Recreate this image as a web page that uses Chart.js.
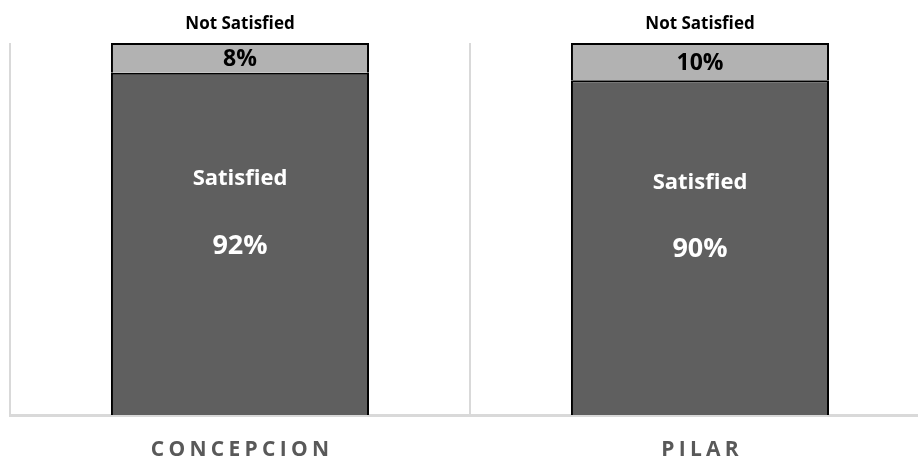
<!DOCTYPE html>
<html>
<head>
<meta charset="utf-8">
<script src="https://cdn.jsdelivr.net/npm/chart.js@4.4.0/dist/chart.umd.min.js"></script>
<style>
  html, body { margin: 0; padding: 0; background: #ffffff; overflow: hidden; }
  #wrap { position: relative; width: 940px; height: 461px; }
</style>
</head>
<body>
<div id="wrap"><canvas id="chart"></canvas></div>
<script>
// chart data
const categories = ['CONCEPCION', 'PILAR'];
const satisfied = [92, 90];
const notSatisfied = [8, 10];

const FONT = "'Open Sans', sans-serif";

// Draws the in-bar labels, the "Not Satisfied" captions and spaced category names
const labelPlugin = {
  id: 'labelPlugin',
  afterDatasetsDraw(chart) {
    const ctx = chart.ctx;
    const metaSat = chart.getDatasetMeta(0);
    const metaNot = chart.getDatasetMeta(1);
    ctx.save();
    ctx.textAlign = 'center';
    ctx.textBaseline = 'middle';

    metaSat.data.forEach((bar, i) => {
      const mid = (bar.y + bar.base) / 2;
      ctx.fillStyle = '#ffffff';
      ctx.font = 'bold 22px ' + FONT;
      ctx.fillText('Satisfied', bar.x, mid - 65);
      ctx.font = 'bold 27px ' + FONT;
      ctx.fillText(satisfied[i] + '%', bar.x, mid + 2);
    });

    metaNot.data.forEach((bar, i) => {
      const mid = (bar.y + bar.base) / 2;
      ctx.fillStyle = '#000000';
      ctx.font = 'bold 23px ' + FONT;
      ctx.fillText(notSatisfied[i] + '%', bar.x, mid + 2);
      ctx.font = 'bold 17px ' + FONT;
      ctx.fillText('Not Satisfied', bar.x, bar.y - 19);
    });

    // category labels with letter spacing
    ctx.fillStyle = '#595959';
    ctx.font = 'bold 21px ' + FONT;
    ctx.letterSpacing = '4.3px';
    const xScale = chart.scales.x;
    categories.forEach((c, i) => {
      ctx.fillText(c, xScale.getPixelForValue(i) + 2.1, chart.chartArea.bottom + 35);
    });
    ctx.restore();
  }
};

new Chart(document.getElementById('chart'), {
  type: 'bar',
  data: {
    labels: categories,
    datasets: [
      {
        label: 'Satisfied',
        data: satisfied,
        backgroundColor: '#5f5f5f',
        borderColor: '#000000',
        borderWidth: 2,
        borderSkipped: 'bottom',
        categoryPercentage: 0.561,
        barPercentage: 1
      },
      {
        label: 'Not Satisfied',
        data: notSatisfied,
        backgroundColor: '#b2b2b2',
        borderColor: '#000000',
        borderWidth: 2,
        borderSkipped: 'bottom',
        categoryPercentage: 0.561,
        barPercentage: 1
      }
    ]
  },
  options: {
    responsive: true,
    maintainAspectRatio: false,
    animation: false,
    layout: {
      padding: { left: 10, right: 10, top: 43, bottom: 46 }
    },
    plugins: {
      legend: { display: false },
      tooltip: { enabled: false }
    },
    scales: {
      x: {
        stacked: true,
        grid: {
          display: true,
          offset: true,
          color: '#d9d9d9',
          lineWidth: 2,
          drawTicks: false
        },
        border: { display: true, color: '#d9d9d9', width: 3 },
        ticks: { display: false }
      },
      y: {
        stacked: true,
        min: 0,
        max: 100,
        display: false
      }
    }
  },
  plugins: [labelPlugin]
});
</script>
</body>
</html>
